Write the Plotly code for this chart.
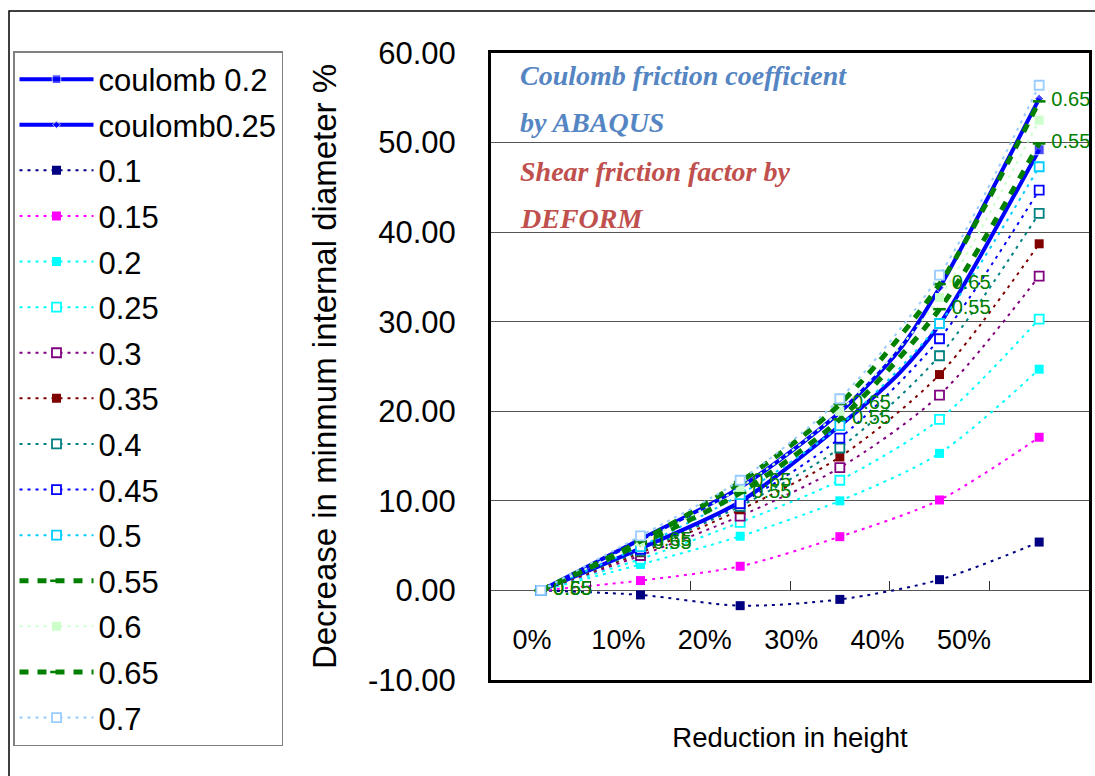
import plotly.graph_objects as go

# ---- data -----------------------------------------------------------------
reduction = [0, 10, 20, 30, 40, 50]              # reduction in height, %
reduction_labels = ["0%", "10%", "20%", "30%", "40%", "50%"]

y_ticks = [-10, 0, 10, 20, 30, 40, 50, 60]
y_tick_labels = ["-10.00", "0.00", "10.00", "20.00", "30.00", "40.00", "50.00", "60.00"]

# ABAQUS Coulomb runs (an extra output increment at 36 % reduction)
coulomb_reduction = [0, 10, 20, 30, 36, 40, 50]
coulomb_02 = [0, 4.7, 9.9, 18.4, 24.3, 29.7, 49.2]
coulomb_025 = [0, 5.7, 11.5, 19.9, 26.9, 33.8, 54.9]

# DEFORM shear friction factor runs
m_010 = [0, -0.5, -1.7, -1.0, 1.2, 5.4]
m_015 = [0, 1.1, 2.7, 6.0, 10.1, 17.1]
m_020 = [0, 2.9, 6.05, 10.0, 15.3, 24.7]
m_025 = [0, 3.5, 7.6, 12.3, 19.1, 30.3]
m_030 = [0, 3.9, 8.3, 13.7, 21.8, 35.1]
m_035 = [0, 4.2, 9.0, 14.9, 24.1, 38.7]
m_040 = [0, 4.4, 9.4, 15.9, 26.2, 42.1]
m_045 = [0, 4.6, 9.7, 17.0, 28.1, 44.7]
m_050 = [0, 4.9, 10.7, 18.4, 29.8, 47.3]
m_055 = [0, 5.2, 10.9, 19.1, 31.4, 49.9]
m_060 = [0, 5.4, 11.5, 20.0, 32.7, 52.5]
m_065 = [0, 5.5, 12.1, 20.8, 34.2, 54.6]
m_070 = [0, 6.1, 12.3, 21.4, 35.2, 56.4]

# ---- page geometry (pixels) ------------------------------------------------
W, H = 1095, 776
PL, PR, PT, PB = 491, 1089, 53, 680


def px_x(px):
    return (px - PL) / (PR - PL)


def px_y(py):
    return (PB - py) / (PB - PT)


SANS = "Arial, Liberation Sans, sans-serif"
SERIF = "Times New Roman, Liberation Serif, serif"
DOT = "3px,5px"

fig = go.Figure()

# Coulomb friction (ABAQUS): heavy solid blue curves
for name, vals, sym, msz in [
    ("coulomb 0.2", coulomb_02, "square", 10),
    ("coulomb0.25", coulomb_025, "diamond", 7),
]:
    fig.add_trace(go.Scatter(
        x=coulomb_reduction, y=vals, name=name, legendgroup=name,
        mode="lines+markers",
        line=dict(color="#0000FF", width=4, shape="spline", smoothing=0.8),
        marker=dict(symbol=sym, color="#0000FF",
                    size=[msz if r % 10 == 0 else 0 for r in coulomb_reduction]),
    ))

# Shear friction factor (DEFORM): dotted curves, square markers
shear_series = [
    ("0.1", m_010, "#000080", True),
    ("0.15", m_015, "#FF00FF", True),
    ("0.2", m_020, "#00FFFF", True),
    ("0.25", m_025, "#00FFFF", False),
    ("0.3", m_030, "#800080", False),
    ("0.35", m_035, "#800000", True),
    ("0.4", m_040, "#008080", False),
    ("0.45", m_045, "#0000FF", False),
    ("0.5", m_050, "#00CCFF", False),
    ("0.55", m_055, "#008000", None),
    ("0.6", m_060, "#CCFFCC", True),
    ("0.65", m_065, "#008000", None),
    ("0.7", m_070, "#99CCFF", False),
]

for name, vals, color, filled in shear_series:
    if filled is None:
        # heavy dashed green curves, labelled at every point
        fig.add_trace(go.Scatter(
            x=reduction, y=vals, name=name, legendgroup=name,
            mode="lines+markers+text",
            line=dict(color=color, width=5, dash="9px,9px", shape="spline", smoothing=0.8),
            marker=dict(symbol="line-ew", size=9, color=color,
                        line=dict(color=color, width=2.5)),
            text=[" " + name] * len(vals), textposition="middle right",
            textfont=dict(family=SANS, size=20, color=color),
        ))
    else:
        fig.add_trace(go.Scatter(
            x=reduction, y=vals, name=name, legendgroup=name,
            mode="lines+markers",
            line=dict(color=color, width=2, dash=DOT, shape="spline", smoothing=0.8),
            marker=dict(symbol="square", size=9,
                        color=color if filled else "white",
                        line=dict(color=color, width=0 if filled else 1.8)),
        ))

# ---- axes -----------------------------------------------------------------
fig.update_layout(
    width=W, height=H,
    margin=dict(l=PL, r=W - PR, t=PT, b=H - PB, autoexpand=False),
    paper_bgcolor="white", plot_bgcolor="white",
    font=dict(family=SANS, color="black"),
    showlegend=True,
    legend=dict(
        x=px_x(13), y=px_y(51), xanchor="left", yanchor="top",
        bgcolor="white", bordercolor="#808080", borderwidth=1.5,
        font=dict(family=SANS, size=31, color="black"),
        traceorder="grouped", tracegroupgap=2.3, itemwidth=74,
        maxheight=760,
    ),
    xaxis=dict(
        range=[-5, 55], showgrid=False, zeroline=False,
        showticklabels=False, ticks="",
        showline=True, linecolor="black", linewidth=3, mirror=True,
        title=dict(text="Reduction in height", standoff=46,
                   font=dict(family=SANS, size=27.5)),
    ),
    # category labels, carried by an axis sitting on y = 0
    xaxis2=dict(
        overlaying="x", anchor="free", position=10 / 70,
        range=[-4.745, 64.47], showgrid=False, zeroline=False, showline=False,
        tickmode="array", tickvals=reduction, ticktext=reduction_labels, ticks="",
        tickfont=dict(family=SANS, size=27), ticklabelstandoff=31,
    ),
    # short tick marks between categories on the y = 0 line
    xaxis3=dict(
        overlaying="x", anchor="free", position=10 / 70,
        range=[-5, 55], showgrid=False, zeroline=False, showline=False,
        showticklabels=False, tickmode="array", tickvals=[5, 15, 25, 35, 45],
        ticks="inside", ticklen=9, tickcolor="#333", tickwidth=1,
    ),
    yaxis=dict(
        range=[-10, 60], tickmode="array", tickvals=y_ticks, ticktext=y_tick_labels,
        showgrid=True, gridcolor="#555555", gridwidth=1, zeroline=False,
        showline=True, linecolor="black", linewidth=3, mirror=True,
        ticks="", tickfont=dict(family=SANS, size=31), ticklabelstandoff=26,
        title=dict(text="Decrease in minmum internal diameter %", standoff=22,
                   font=dict(family=SANS, size=33)),
    ),
)

# empty carriers so the overlay axes are drawn
fig.add_trace(go.Scatter(x=[None], y=[None], xaxis="x2", showlegend=False, hoverinfo="skip"))
fig.add_trace(go.Scatter(x=[None], y=[None], xaxis="x3", showlegend=False, hoverinfo="skip"))

# ---- notes inside the plot -----------------------------------------------
notes = [
    ("Coulomb friction coefficient", 75, "#5585C2"),
    ("by ABAQUS", 123, "#5585C2"),
    ("Shear friction factor by", 171, "#C0504D"),
    ("DEFORM", 218, "#C0504D"),
]
for txt, ypx, col in notes:
    fig.add_annotation(
        x=px_x(518), y=px_y(ypx), xref="paper", yref="paper",
        xanchor="left", yanchor="middle", showarrow=False,
        text=f"<b><i>{txt}</i></b>",
        font=dict(family=SERIF, size=28, color=col),
    )

# chart-area frame
fig.add_shape(type="rect", xref="paper", yref="paper",
              x0=px_x(9), x1=px_x(1120), y0=px_y(11), y1=px_y(800),
              line=dict(color="black", width=1.5), layer="below")

fig.write_html("out.html")
